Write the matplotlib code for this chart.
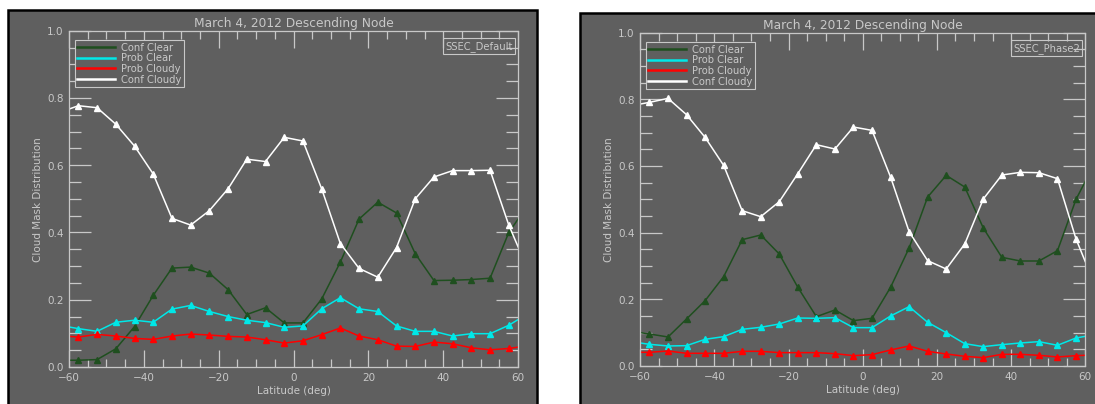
import matplotlib
matplotlib.use("Agg")
import matplotlib.pyplot as plt
from matplotlib.patches import Rectangle
from matplotlib.lines import Line2D
from matplotlib.ticker import MultipleLocator

# ---------------- data ----------------
latitude = [-60, -57.5, -52.5, -47.5, -42.5, -37.5, -32.5, -27.5, -22.5, -17.5,
            -12.5, -7.5, -2.5, 2.5, 7.5, 12.5, 17.5, 22.5, 27.5, 32.5, 37.5,
            42.5, 47.5, 52.5, 57.5, 60]

series_names = ["Conf Clear", "Prob Clear", "Prob Cloudy", "Conf Cloudy"]
series_colors = ["#1f4f1f", "#00e8e8", "#ff0000", "#ffffff"]

title_text = "March 4, 2012 Descending Node"
panel_tags = ["SSEC_Default", "SSEC_Phase2"]

default_conf_clear = [0.020, 0.020, 0.022, 0.054, 0.120, 0.213, 0.294, 0.297, 0.279, 0.230,
                      0.156, 0.176, 0.131, 0.131, 0.202, 0.312, 0.440, 0.490, 0.458, 0.337,
                      0.257, 0.258, 0.260, 0.264, 0.400, 0.440]
default_prob_clear = [0.119, 0.114, 0.106, 0.133, 0.139, 0.133, 0.172, 0.183, 0.165, 0.150,
                      0.139, 0.132, 0.118, 0.122, 0.173, 0.206, 0.173, 0.165, 0.122, 0.106,
                      0.106, 0.092, 0.099, 0.099, 0.124, 0.141]
default_prob_cloudy = [0.091, 0.089, 0.097, 0.092, 0.085, 0.082, 0.092, 0.098, 0.095, 0.091,
                       0.089, 0.081, 0.071, 0.078, 0.096, 0.116, 0.092, 0.081, 0.062, 0.061,
                       0.074, 0.069, 0.057, 0.051, 0.055, 0.059]
default_conf_cloudy = [0.767, 0.777, 0.771, 0.722, 0.657, 0.574, 0.442, 0.422, 0.465, 0.530,
                       0.618, 0.611, 0.683, 0.672, 0.530, 0.367, 0.293, 0.267, 0.355, 0.500,
                       0.565, 0.584, 0.584, 0.585, 0.422, 0.357]

phase2_conf_clear = [0.100, 0.096, 0.087, 0.141, 0.196, 0.268, 0.379, 0.393, 0.336, 0.236,
                     0.148, 0.168, 0.136, 0.143, 0.236, 0.354, 0.507, 0.572, 0.537, 0.414,
                     0.326, 0.315, 0.315, 0.346, 0.500, 0.554]
phase2_prob_clear = [0.069, 0.065, 0.060, 0.061, 0.080, 0.088, 0.110, 0.116, 0.126, 0.144,
                     0.143, 0.145, 0.115, 0.115, 0.150, 0.178, 0.131, 0.100, 0.067, 0.058,
                     0.064, 0.069, 0.073, 0.062, 0.084, 0.089]
phase2_prob_cloudy = [0.041, 0.041, 0.045, 0.038, 0.038, 0.038, 0.044, 0.044, 0.040, 0.040,
                      0.040, 0.037, 0.031, 0.034, 0.048, 0.060, 0.044, 0.036, 0.029, 0.025,
                      0.035, 0.035, 0.032, 0.027, 0.031, 0.032]
phase2_conf_cloudy = [0.786, 0.791, 0.803, 0.754, 0.686, 0.602, 0.466, 0.448, 0.493, 0.577,
                      0.664, 0.651, 0.717, 0.707, 0.567, 0.403, 0.316, 0.291, 0.366, 0.501,
                      0.573, 0.581, 0.580, 0.562, 0.381, 0.313]

panels = [
    [default_conf_clear, default_prob_clear, default_prob_cloudy, default_conf_cloudy],
    [phase2_conf_clear, phase2_prob_clear, phase2_prob_cloudy, phase2_conf_cloudy],
]

# ---------------- style ----------------
W, H = 1095, 404
BG = "#5f5f5f"
FG = "#c8c8c8"
plt.rcParams['font.family'] = ['DejaVu Sans']

# small epsilon so the Agg canvas is not truncated to 1094x403
fig = plt.figure(figsize=((W + 0.3) / 100, (H + 0.3) / 100), dpi=100)
fig.patch.set_facecolor("white")

def fx(px):
    return px / W

def fy(py):
    return 1 - py / H

# panel backgrounds (pixel boxes: left, top, right, bottom)
panel_boxes = [(8, 10, 537, 420), (580, 13, 1110, 420)]
axes_boxes = [(69, 31, 518, 367), (640, 33, 1085, 366)]

for (l, t, r, b) in panel_boxes:
    fig.patches.append(Rectangle((fx(l), fy(b)), fx(r - l), (b - t) / H,
                                 transform=fig.transFigure, facecolor=BG,
                                 edgecolor="none", zorder=-10))
    fig.lines.append(Line2D([fx(l), fx(l), fx(r), fx(r)], [fy(b), fy(t), fy(t), fy(b)],
                            transform=fig.transFigure, color="black", lw=1.8,
                            solid_joinstyle="miter", solid_capstyle="butt", zorder=-9))

for i, (l, t, r, b) in enumerate(axes_boxes):
    ax = fig.add_axes([fx(l), fy(b), fx(r - l), (b - t) / H])
    ax.set_zorder(5)
    ax.set_facecolor("none")
    for s in ax.spines.values():
        s.set_color(FG)
        s.set_linewidth(0.9)

    for vals, name, col in zip(panels[i], series_names, series_colors):
        ax.plot(latitude, vals, color=col, lw=1.1, marker="^", ms=4.5,
                markevery=slice(1, len(latitude) - 1), mec=col, mfc=col,
                solid_joinstyle="miter")

    ax.set_xlim(-60, 60)
    ax.set_ylim(0, 1.0)
    ax.xaxis.set_major_locator(MultipleLocator(20))
    ax.xaxis.set_minor_locator(MultipleLocator(5))
    ax.yaxis.set_major_locator(MultipleLocator(0.2))
    ax.yaxis.set_minor_locator(MultipleLocator(0.05))
    ax.yaxis.set_major_formatter(plt.FormatStrFormatter("%.1f"))

    ax.tick_params(axis="x", which="major", direction="in", length=12, width=0.9,
                   color=FG, top=True, bottom=True, labelsize=7.5, labelcolor=FG, pad=4)
    ax.tick_params(axis="x", which="minor", direction="in", length=5.8, width=0.9,
                   color=FG, top=True, bottom=True)
    ax.tick_params(axis="y", which="major", direction="in", length=16, width=0.9,
                   color=FG, left=True, right=True, labelsize=7.5, labelcolor=FG, pad=4)
    ax.tick_params(axis="y", which="minor", direction="in", length=8.6, width=0.9,
                   color=FG, left=True, right=True)

    ax.set_title(title_text, color=FG, fontsize=8.8, pad=3)
    ax.set_xlabel("Latitude (deg)", color=FG, fontsize=7.5)
    ax.set_ylabel("Cloud Mask Distribution", color=FG, fontsize=7.5)
    ax.xaxis.set_label_coords(0.5, -0.055)
    ax.yaxis.set_label_coords(-0.058, 0.5)

    handles = [Line2D([], [], color=c, lw=1.8) for c in series_colors]
    leg = ax.legend(handles, series_names, loc="upper left",
                    bbox_to_anchor=(0.013, 0.973), borderaxespad=0,
                    fontsize=7.2, handlelength=3.8, handletextpad=0.6,
                    labelspacing=0.08, borderpad=0.25, fancybox=False,
                    framealpha=1, facecolor=BG, edgecolor=FG)
    leg.get_frame().set_linewidth(0.8)
    for t in leg.get_texts():
        t.set_color(FG)

    ax.text(0.988, 0.970, panel_tags[i], transform=ax.transAxes, ha="right", va="top",
            color=FG, fontsize=7.2,
            bbox=dict(boxstyle="square,pad=0.25", facecolor="none", edgecolor=FG, lw=0.8))

fig.savefig("out.png", dpi=100, facecolor="white")
